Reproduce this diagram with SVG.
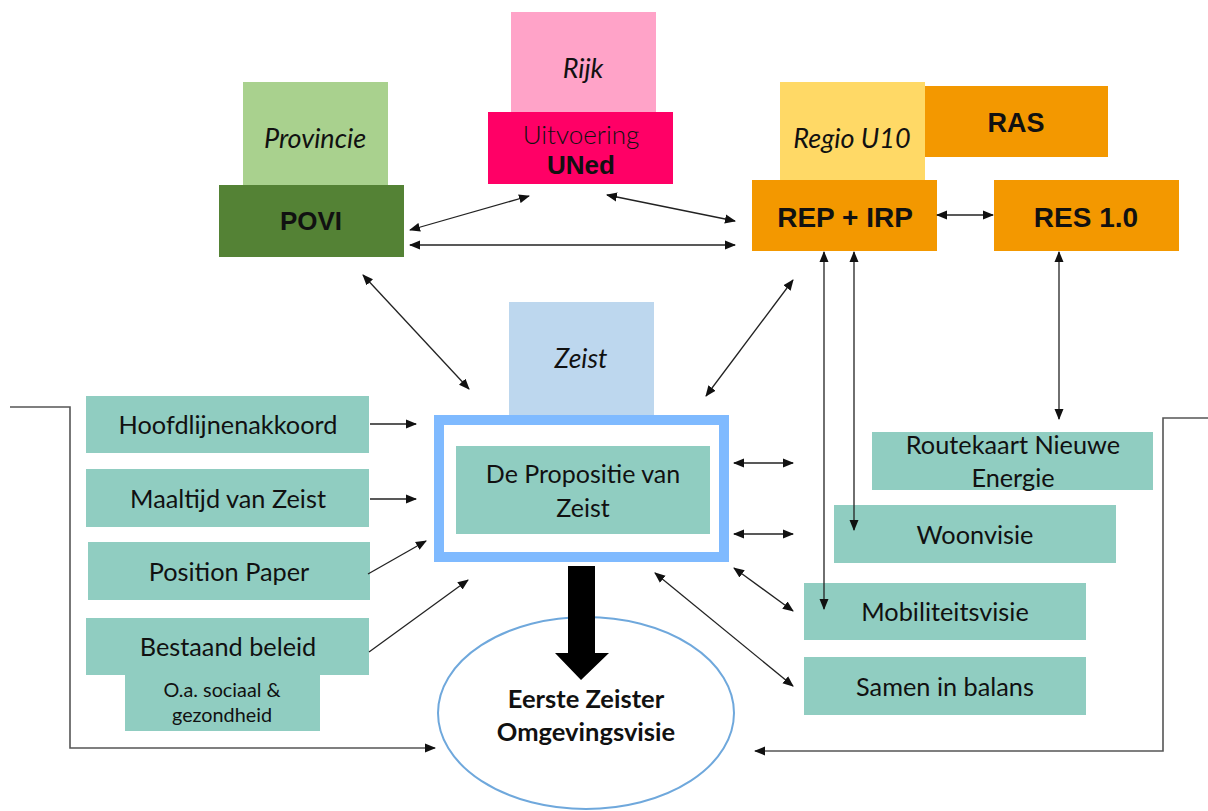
<svg xmlns="http://www.w3.org/2000/svg" width="1208" height="811" viewBox="0 0 1208 811">
<style>
.t{font-family:Lato,"Open Sans",sans-serif;fill:#111;text-anchor:middle}
.it{font-family:Lato,"Open Sans",sans-serif;font-style:italic;fill:#111;text-anchor:middle}
.b{font-family:"Liberation Sans",Arial,sans-serif;font-weight:bold;fill:#111;text-anchor:middle}
.g{fill:#90cdc1}
.c{stroke:#222;stroke-width:1.3;fill:none}
.f{stroke:#555;stroke-width:1.6;fill:none}
</style>
<defs>
<marker id="ah" markerUnits="userSpaceOnUse" markerWidth="12" markerHeight="10" refX="10" refY="5" orient="auto-start-reverse" viewBox="0 0 12 10">
<path d="M0,0.5 L11,5 L0,9.5 Z" fill="#111"/>
</marker>
</defs>
<rect width="1208" height="811" fill="#fff"/>

<g id="provincie">
<rect x="243" y="82" width="145" height="103" fill="#a9d18e"/>
<text class="it" x="315" y="148" font-size="27">Provincie</text>
</g>
<g id="povi">
<rect x="219" y="185" width="185" height="72" fill="#548235"/>
<text class="b" x="311" y="230" font-size="26">POVI</text>
</g>
<g id="rijk">
<rect x="511" y="12" width="145" height="100" fill="#ffa3c8"/>
<text class="it" x="583" y="78" font-size="27">Rijk</text>
</g>
<g id="uitvoering">
<rect x="488" y="112" width="185" height="72" fill="#ff0066"/>
<text class="t" x="581" y="144" font-size="26" font-weight="300" fill="#222">Uitvoering</text>
<text class="b" x="581" y="174" font-size="26">UNed</text>
</g>
<g id="regio">
<rect x="780" y="82" width="145" height="98" fill="#ffd966"/>
<text class="it" x="852" y="148" font-size="27">Regio U10</text>
</g>
<g id="ras">
<rect x="925" y="86" width="183" height="71" fill="#f39800"/>
<text class="b" x="1016" y="132" font-size="27">RAS</text>
</g>
<g id="repirp">
<rect x="752" y="180" width="185" height="71" fill="#f39800"/>
<text class="b" x="845" y="227" font-size="28">REP + IRP</text>
</g>
<g id="res">
<rect x="994" y="180" width="185" height="71" fill="#f39800"/>
<text class="b" x="1086" y="227" font-size="28">RES 1.0</text>
</g>
<g id="zeist">
<rect x="509" y="302" width="145" height="113" fill="#bdd7ee"/>
<text class="it" x="581" y="368" font-size="26.5">Zeist</text>
</g>
<g id="propositie">
<rect x="439" y="420" width="285" height="137" fill="#fff" stroke="#7fbaff" stroke-width="10"/>
<rect x="456" y="446" width="254" height="88" class="g"/>
<text class="t" x="583" y="483" font-size="25">De Propositie van</text>
<text class="t" x="583" y="517" font-size="25">Zeist</text>
</g>
<g id="omgevingsvisie">
<ellipse cx="586" cy="713" rx="148" ry="96" fill="#fff" stroke="#6fa8dc" stroke-width="2"/>
<text class="t" x="586" y="708" font-size="25.5" font-weight="bold">Eerste Zeister</text>
<text class="t" x="586" y="741" font-size="25.5" font-weight="bold">Omgevingsvisie</text>
</g>
<g id="bigarrow">
<path d="M568,566 H595 V653 H609 L581,680 L555,653 H568 Z" fill="#000"/>
</g>

<g id="hoofdlijnenakkoord">
<rect x="86" y="396" width="283" height="57" class="g"/>
<text class="t" x="228" y="434" font-size="25.3">Hoofdlijnenakkoord</text>
</g>
<g id="maaltijd">
<rect x="86" y="469" width="283" height="58" class="g"/>
<text class="t" x="228" y="508" font-size="25.3">Maaltijd van Zeist</text>
</g>
<g id="position">
<rect x="88" y="542" width="282" height="58" class="g"/>
<text class="t" x="229" y="581" font-size="25.3">Position Paper</text>
</g>
<g id="bestaand">
<rect x="86" y="618" width="283" height="57" class="g"/>
<text class="t" x="228" y="656" font-size="25.3">Bestaand beleid</text>
</g>
<g id="sociaal">
<rect x="125" y="675" width="195" height="56" class="g"/>
<text class="t" x="222" y="697" font-size="19.8">O.a. sociaal &amp;</text>
<text class="t" x="222" y="722" font-size="19.8">gezondheid</text>
</g>

<g id="routekaart">
<rect x="872" y="432" width="281" height="58" class="g"/>
<text class="t" x="1013" y="454" font-size="25.3">Routekaart Nieuwe</text>
<text class="t" x="1013" y="487" font-size="25.3">Energie</text>
</g>
<g id="woonvisie">
<rect x="834" y="505" width="282" height="58" class="g"/>
<text class="t" x="975" y="544" font-size="25.3">Woonvisie</text>
</g>
<g id="mobiliteit">
<rect x="804" y="583" width="282" height="57" class="g"/>
<text class="t" x="945" y="621" font-size="25.3">Mobiliteitsvisie</text>
</g>
<g id="samen">
<rect x="804" y="657" width="282" height="58" class="g"/>
<text class="t" x="945" y="696" font-size="25.3">Samen in balans</text>
</g>

<g id="connectors">
<line class="c" x1="410" y1="230" x2="529" y2="196" marker-start="url(#ah)" marker-end="url(#ah)"/>
<line class="c" x1="607" y1="195" x2="735" y2="221" marker-start="url(#ah)" marker-end="url(#ah)"/>
<line class="c" x1="410" y1="245" x2="735" y2="245" marker-start="url(#ah)" marker-end="url(#ah)"/>
<line class="c" x1="937" y1="215" x2="993" y2="215" marker-start="url(#ah)" marker-end="url(#ah)"/>
<line class="c" x1="363" y1="275" x2="469" y2="389" marker-start="url(#ah)" marker-end="url(#ah)"/>
<line class="c" x1="793" y1="280" x2="706" y2="396" marker-start="url(#ah)" marker-end="url(#ah)"/>
<line class="c" x1="824" y1="252" x2="824" y2="609" marker-start="url(#ah)" marker-end="url(#ah)"/>
<line class="c" x1="854" y1="252" x2="854" y2="530" marker-start="url(#ah)" marker-end="url(#ah)"/>
<line class="c" x1="1059" y1="252" x2="1059" y2="419" marker-start="url(#ah)" marker-end="url(#ah)"/>
<line class="c" x1="734" y1="463" x2="793" y2="463" marker-start="url(#ah)" marker-end="url(#ah)"/>
<line class="c" x1="734" y1="534" x2="793" y2="534" marker-start="url(#ah)" marker-end="url(#ah)"/>
<line class="c" x1="734" y1="568" x2="793" y2="611" marker-start="url(#ah)" marker-end="url(#ah)"/>
<line class="c" x1="655" y1="573" x2="793" y2="686" marker-start="url(#ah)" marker-end="url(#ah)"/>
<line class="c" x1="370" y1="424" x2="416" y2="424" marker-end="url(#ah)"/>
<line class="c" x1="370" y1="499" x2="416" y2="499" marker-end="url(#ah)"/>
<line class="c" x1="368" y1="574" x2="426" y2="541" marker-end="url(#ah)"/>
<line class="c" x1="369" y1="652" x2="468" y2="580" marker-end="url(#ah)"/>
<polyline class="f" points="10,407 70,407 70,748 435,748" marker-end="url(#ah)"/>
<polyline class="f" points="1208,418 1163,418 1163,751 755,751" marker-end="url(#ah)"/>
</g>
</svg>
